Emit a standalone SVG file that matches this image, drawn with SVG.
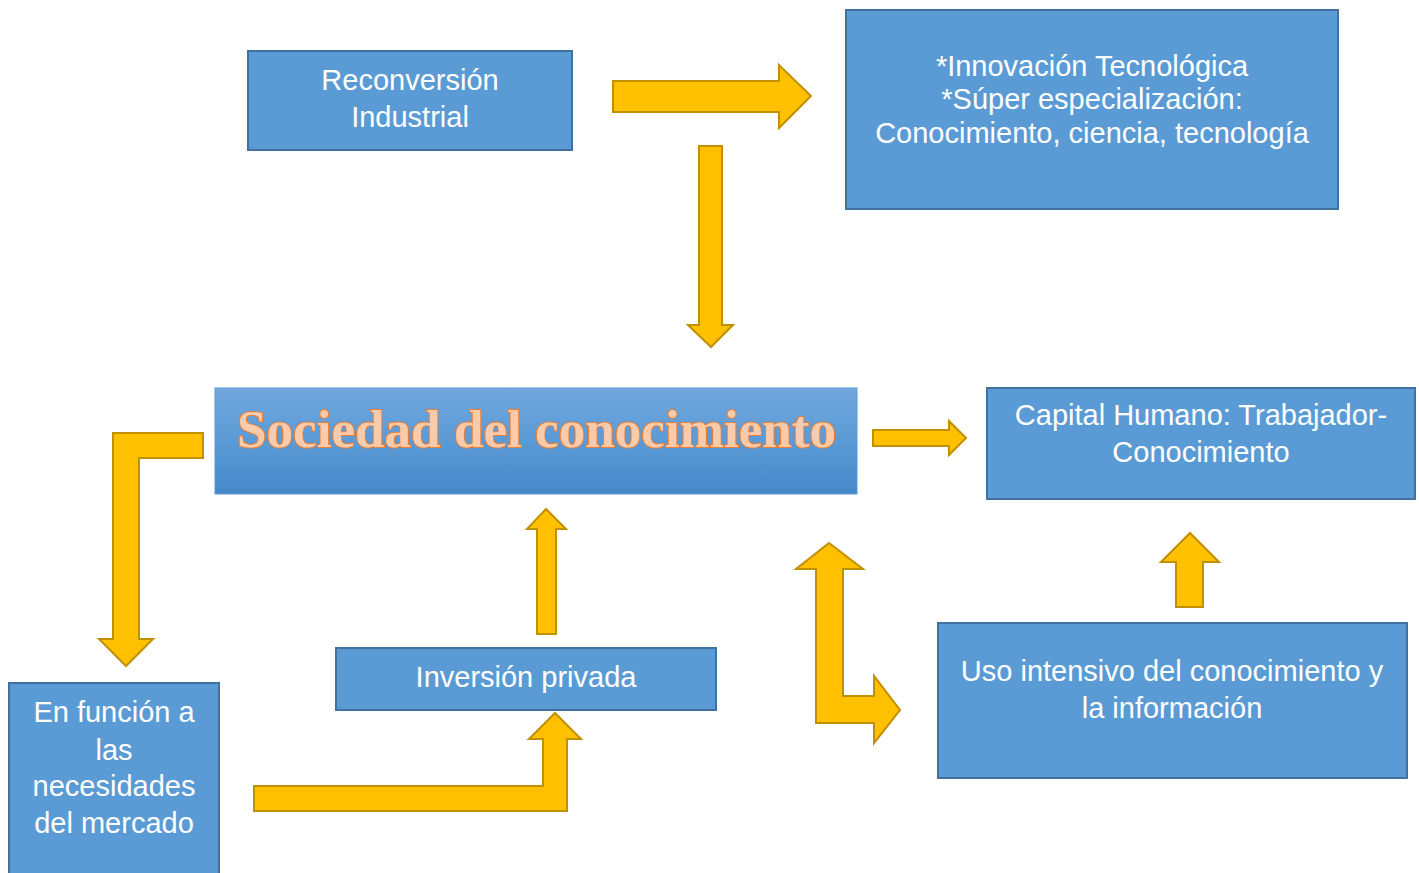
<svg xmlns="http://www.w3.org/2000/svg" width="1419" height="873" viewBox="0 0 1419 873">
<defs>
<linearGradient id="g" x1="0" y1="0" x2="0" y2="1">
<stop offset="0" stop-color="#71a8dd"/>
<stop offset="0.5" stop-color="#5a9ad6"/>
<stop offset="1" stop-color="#4688c9"/>
</linearGradient>
</defs>
<style>
.box{fill:#5b9bd5;stroke:#41719c;stroke-width:2}
.t{font-family:"Liberation Sans",Arial,sans-serif;font-size:29px;fill:#ffffff;text-anchor:middle}
.ar{fill:#ffc000;stroke:#bf9000;stroke-width:2;stroke-linejoin:miter}
.title{font-family:"Liberation Serif","Times New Roman",serif;font-weight:bold;font-size:52px;fill:#f8cbad;stroke:#ed7d31;stroke-width:2;paint-order:stroke}
</style>
<rect width="1419" height="873" fill="#ffffff"/>
<g id="connectors">
<polygon class="ar" points="613,81 779,81 779,65 811,96 779,128 779,112 613,112"/>
<polygon class="ar" points="699,146 722,146 722,325 733,325 711,347 688,325 699,325"/>
<polygon class="ar" points="873,430 949,430 949,421 966,438 949,455 949,446 873,446"/>
<polygon class="ar" points="203,433 113,433 113,639 99,639 126,666 153,639 139,639 139,458 203,458"/>
<polygon class="ar" points="537,634 556,634 556,529 566,529 546,509 527,529 537,529"/>
<polygon class="ar" points="254,786 543,786 543,739 529,739 555,713 581,739 567,739 567,811 254,811"/>
<polygon class="ar" points="829,543 863,569 843,569 843,696 874,696 874,676 900,710 874,743 874,723 816,723 816,569 796,569"/>
<polygon class="ar" points="1176,607 1203,607 1203,562 1219,562 1190,533 1161,562 1176,562"/>
</g>
<g id="reconversion">
<rect class="box" x="248" y="51" width="324" height="99"/>
<text class="t" x="410" y="90">Reconversión</text>
<text class="t" x="410" y="127">Industrial</text>
</g>
<g id="innovacion">
<rect class="box" x="846" y="10" width="492" height="199"/>
<text class="t" x="1092" y="76">*Innovación Tecnológica</text>
<text class="t" x="1092" y="109">*Súper especialización:</text>
<text class="t" x="1092" y="143">Conocimiento, ciencia, tecnología</text>
</g>
<g id="sociedad">
<rect x="215" y="388" width="642" height="106" fill="url(#g)" stroke="#5b9bd5" stroke-width="1"/>
<text class="title" x="237" y="447" textLength="599" lengthAdjust="spacingAndGlyphs">Sociedad del conocimiento</text>
</g>
<g id="capital">
<rect class="box" x="987" y="388" width="428" height="111"/>
<text class="t" x="1201" y="425">Capital Humano: Trabajador-</text>
<text class="t" x="1201" y="462">Conocimiento</text>
</g>
<g id="uso">
<rect class="box" x="938" y="623" width="469" height="155"/>
<text class="t" x="1172" y="681">Uso intensivo del conocimiento y</text>
<text class="t" x="1172" y="718">la información</text>
</g>
<g id="inversion">
<rect class="box" x="336" y="648" width="380" height="62"/>
<text class="t" x="526" y="687">Inversión privada</text>
</g>
<g id="enfuncion">
<rect class="box" x="9" y="683" width="210" height="200"/>
<text class="t" x="114" y="722">En función a</text>
<text class="t" x="114" y="760">las</text>
<text class="t" x="114" y="796">necesidades</text>
<text class="t" x="114" y="833">del mercado</text>
</g>
</svg>
